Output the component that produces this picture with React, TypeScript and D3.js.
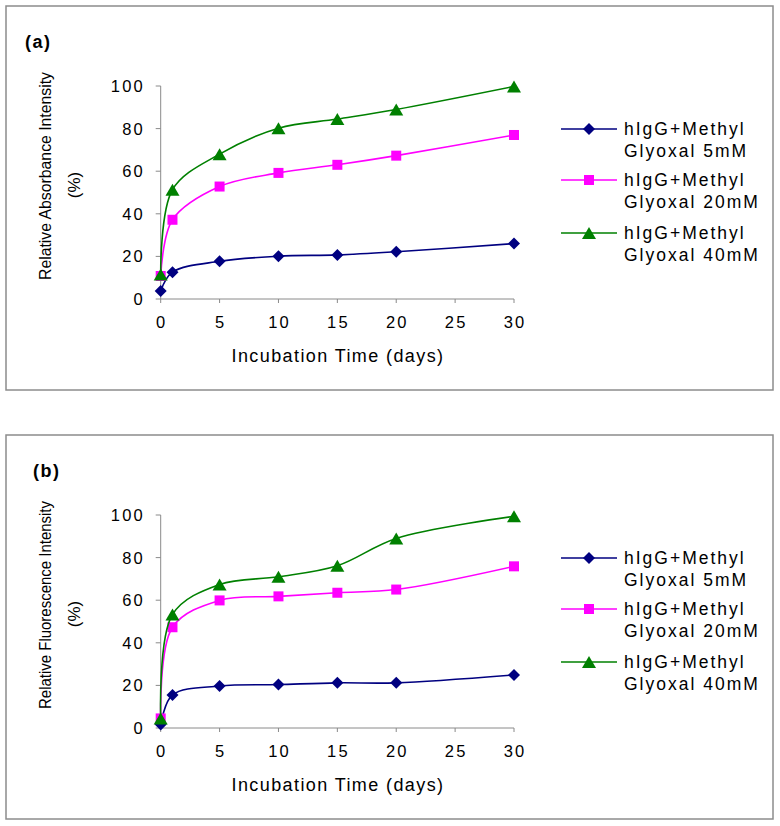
import React from "react";
import * as d3 from "d3";

const days = [0, 1, 5, 10, 15, 20, 30];
const xTicks = [0, 5, 10, 15, 20, 25, 30];
const yTicks = [0, 20, 40, 60, 80, 100];

const absorb5 = [3.8, 12.6, 17.7, 20.1, 20.7, 22.2, 26];
const absorb20 = [10.8, 37.2, 52.8, 59.2, 63, 67.3, 77];
const absorb40 = [11.5, 51.3, 68, 80.2, 84.5, 89, 99.8];

const fluor5 = [1.6, 15.5, 19.7, 20.4, 21.2, 21.2, 24.9];
const fluor20 = [4.5, 47.3, 59.9, 61.8, 63.5, 65, 75.9];
const fluor40 = [4.5, 53.3, 67.4, 71, 76.2, 89, 99.4];

const seriesNames = ["5mM", "20mM", "40mM"];
const seriesColors = ["#000080", "#FF00FF", "#008000"];
const seriesMarkers = ["diamond", "square", "triangle"];

const FONT = "'Liberation Sans', Arial, sans-serif";

function Marker({ type, x, y, color }: { type: string; x: number; y: number; color: string }) {
  if (type === "diamond") {
    const r = 6;
    return <path d={`M${x},${y - r}L${x + r},${y}L${x},${y + r}L${x - r},${y}Z`} fill={color} />;
  }
  if (type === "square") {
    const s = 10;
    return <rect x={x - s / 2} y={y - s / 2} width={s} height={s} fill={color} />;
  }
  const w = 14;
  const h = 12;
  return <path d={`M${x},${y - h / 2}L${x + w / 2},${y + h / 2}L${x - w / 2},${y + h / 2}Z`} fill={color} />;
}

function Panel({
  top,
  label,
  labelX,
  yTitle,
  series,
}: {
  top: number;
  label: string;
  labelX: number;
  yTitle: string;
  series: number[][];
}) {
  const plotTop = top + 80;
  const plotBottom = plotTop + 213;
  const x = d3.scaleLinear().domain([0, 30]).range([160.7, 514]);
  const y = d3.scaleLinear().domain([0, 100]).range([plotBottom, plotTop]);
  const line = d3
    .line<number>()
    .x((_, i) => x(days[i]))
    .y((d) => y(d))
    .curve(d3.curveCatmullRom.alpha(0.5));
  const axisColor = "#8a8a8a";
  const legendYs = [43, 94, 147];
  const titleCy = plotTop + 90;
  return (
    <g>
      <rect x={6} y={top} width={767} height={384} fill="none" stroke="#8c8c8c" strokeWidth={1.5} />
      <text x={labelX} y={top + 42} fontFamily={FONT} fontWeight="bold" fontSize={18} letterSpacing={1.5} fill="#000">
        {label}
      </text>
      {/* axes */}
      <line x1={x(0)} x2={x(0)} y1={plotTop} y2={plotBottom} stroke={axisColor} strokeWidth={1} />
      <line x1={x(0)} x2={x(30)} y1={plotBottom} y2={plotBottom} stroke={axisColor} strokeWidth={1} />
      {yTicks.map((t) => (
        <g key={"y" + t}>
          <line x1={x(0) - 5} x2={x(0)} y1={y(t)} y2={y(t)} stroke={axisColor} />
          <text
            x={145}
            y={y(t)}
            dy="0.36em"
            textAnchor="end"
            fontFamily={FONT}
            fontSize={16.5}
            letterSpacing={2.2}
            fill="#000"
          >
            {t}
          </text>
        </g>
      ))}
      {xTicks.map((t) => (
        <g key={"x" + t}>
          <line x1={x(t)} x2={x(t)} y1={plotBottom} y2={plotBottom + 4} stroke={axisColor} />
          <text
            x={x(t) + 1.1}
            y={plotBottom + 29}
            textAnchor="middle"
            fontFamily={FONT}
            fontSize={16.5}
            letterSpacing={2.2}
            fill="#000"
          >
            {t}
          </text>
        </g>
      ))}
      <text
        x={338}
        y={plotBottom + 63}
        textAnchor="middle"
        fontFamily={FONT}
        fontSize={18}
        letterSpacing={1.4}
        fill="#000"
      >
        Incubation Time (days)
      </text>
      <text
        transform={`translate(51,${titleCy}) rotate(-90)`}
        textAnchor="middle"
        fontFamily={FONT}
        fontSize={17}
        textLength={208}
        lengthAdjust="spacingAndGlyphs"
        fill="#000"
      >
        {yTitle}
      </text>
      <text
        transform={`translate(80,${titleCy + 9}) rotate(-90)`}
        textAnchor="middle"
        fontFamily={FONT}
        fontSize={17}
        fill="#000"
      >
        (%)
      </text>
      {/* series */}
      {series.map((vals, si) => (
        <g key={"s" + si}>
          <path d={line(vals) || ""} fill="none" stroke={seriesColors[si]} strokeWidth={1.6} />
          {vals.map((v, i) => (
            <Marker key={i} type={seriesMarkers[si]} x={x(days[i])} y={y(v)} color={seriesColors[si]} />
          ))}
        </g>
      ))}
      {/* legend */}
      {seriesNames.map((n, si) => {
        const ly = plotTop + legendYs[si];
        return (
          <g key={"l" + si}>
            <line x1={561} x2={617} y1={ly} y2={ly} stroke={seriesColors[si]} strokeWidth={1.6} />
            <Marker type={seriesMarkers[si]} x={589} y={ly} color={seriesColors[si]} />
            <text x={624} y={ly + 6} fontFamily={FONT} fontSize={17.5} letterSpacing={2} fill="#000">
              hIgG+Methyl
            </text>
            <text x={624} y={ly + 28} fontFamily={FONT} fontSize={17.5} letterSpacing={2} fill="#000">
              {"Glyoxal " + n}
            </text>
          </g>
        );
      })}
    </g>
  );
}

export default function App() {
  return (
    <svg
      width={780}
      height={826}
      style={{ position: "absolute", left: 0, top: 0, background: "#fff" }}
    >
      <rect x={0} y={0} width={780} height={826} fill="#fff" />
      <Panel
        top={6}
        label="(a)"
        labelX={25}
        yTitle="Relative Absorbance Intensity"
        series={[absorb5, absorb20, absorb40]}
      />
      <Panel
        top={435}
        label="(b)"
        labelX={33}
        yTitle="Relative Fluorescence Intensity"
        series={[fluor5, fluor20, fluor40]}
      />
    </svg>
  );
}
